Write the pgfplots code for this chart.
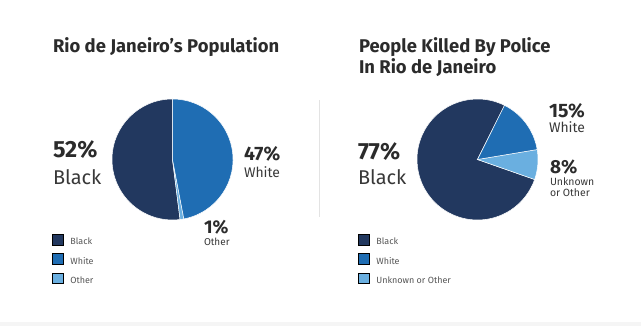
\documentclass[border=0pt]{standalone}
\usepackage{pgfplots}
\pgfplotsset{compat=1.18}
\usepackage{pgfplotstable}
\usepackage{fontspec}
\setmainfont{Fira Sans}
\definecolor{pblack}{HTML}{22385F}
\definecolor{pwhite}{HTML}{1F6DB3}
\definecolor{pother}{HTML}{6AAFE0}
\definecolor{txt}{HTML}{2B2B2B}
\definecolor{lbl}{HTML}{383838}
\definecolor{legtxt}{HTML}{555555}
\definecolor{sepc}{HTML}{E3E3E3}
\definecolor{band}{HTML}{F5F5F5}

\pgfplotstableread{
label value color
Black 52 pblack
Other 1 pother
White 47 pwhite
}\popdata
\pgfplotstableread{
label value color
Black 77 pblack
Unknown 8 pother
White 15 pwhite
}\killdata

\newcommand\pieslices[3]{%
  \pgfplotstablegetrowsof{#1}%
  \pgfmathtruncatemacro\lastrow{\pgfplotsretval-1}%
  \pgfmathsetmacro\cur{#2}%
  \xdef\cur{\cur}%
  \foreach \i in {0,...,\lastrow}{%
    \pgfplotstablegetelem{\i}{value}\of{#1}%
    \pgfmathsetmacro\nxt{\cur+3.6*\pgfplotsretval}%
    \pgfplotstablegetelem{\i}{color}\of{#1}%
    \edef\cmd{\noexpand\fill[fill=\pgfplotsretval,draw=white,line width=0.5bp] (axis cs:0,0) -- ++(\cur:#3) arc[start angle=\cur,end angle=\nxt,radius=#3] -- cycle;}%
    \cmd
    \xdef\cur{\nxt}%
  }%
}

\pgfplotsset{
  piestyle/.style={
    anchor=center, scale only axis, width=121bp, height=121bp,
    xmin=-1, xmax=1, ymin=-1, ymax=1, hide axis, clip=false,
    legend cell align=left,
    legend image code/.code={\fill[##1] (0bp,-2.5bp) rectangle (11bp,8bp);},
    legend style={anchor=north west, draw=none, fill=none, inner sep=0pt, outer sep=0pt,
      row sep=7bp, column sep=7bp, font=\fontsize{9}{11}\selectfont, text=legtxt,
      nodes={inner sep=0pt, outer sep=0pt}},
  }
}

\begin{document}
\begin{tikzpicture}[x=1bp,y=1bp]
\useasboundingbox (0,0) rectangle (641,326);
\fill[band] (0,0) rectangle (641,4);
\draw[sepc, line width=1bp] (319.5,109) -- (319.5,226);

\begin{axis}[piestyle, at={(172.5bp,166.5bp)}, legend style={at={(-0.4959,-0.1157)}}]
\pieslices{\popdata}{90}{60.5bp}
\addlegendimage{fill=pblack}\addlegendentry{Black}
\addlegendimage{fill=pwhite}\addlegendentry{White}
\addlegendimage{fill=pother}\addlegendentry{Other}
\end{axis}

\begin{axis}[piestyle, at={(477.5bp,166.5bp)}, legend style={at={(-0.4876,-0.1157)}}]
\pieslices{\killdata}{63.5}{60.5bp}
\addlegendimage{fill=pblack}\addlegendentry{Black}
\addlegendimage{fill=pwhite}\addlegendentry{White}
\addlegendimage{fill=pother}\addlegendentry{Unknown or Other}
\end{axis}

\begin{scope}[every node/.style={inner sep=0pt, outer sep=0pt, anchor=base west}]
\node[text=txt, font=\fontsize{18.5}{22}\selectfont\bfseries] at (53,274) {Rio de Janeiro’s Population};
\node[text=txt, font=\fontsize{18.5}{22}\selectfont\bfseries] at (359,274) {People Killed By Police};
\node[text=txt, font=\fontsize{18.5}{22}\selectfont\bfseries] at (359,253) {In Rio de Janeiro};

\node[text=txt, font=\fontsize{23.5}{28}\selectfont\bfseries] at (53,169) {52\%};
\node[text=lbl, font=\fontsize{20}{24}\selectfont] at (53,142) {Black};
\node[text=txt, font=\fontsize{19.5}{23}\selectfont\bfseries] at (244,166) {47\%};
\node[text=lbl, font=\fontsize{14}{17}\selectfont] at (244,148.5) {White};
\node[text=txt, font=\fontsize{18.5}{22}\selectfont\bfseries] at (204,92.5) {1\%};
\node[text=lbl, font=\fontsize{10}{12}\selectfont] at (204,80.5) {Other};

\node[text=txt, font=\fontsize{23.5}{28}\selectfont\bfseries] at (358,167) {77\%};
\node[text=lbl, font=\fontsize{20}{24}\selectfont] at (358,142) {Black};
\node[text=txt, font=\fontsize{19.5}{23}\selectfont\bfseries] at (549,209) {15\%};
\node[text=lbl, font=\fontsize{14}{17}\selectfont] at (549,194) {White};
\node[text=txt, font=\fontsize{19}{22}\selectfont\bfseries] at (550,153) {8\%};
\node[text=lbl, font=\fontsize{10.5}{12}\selectfont] at (550,141) {Unknown};
\node[text=lbl, font=\fontsize{10.5}{12}\selectfont] at (550,129.5) {or Other};
\end{scope}
\end{tikzpicture}
\end{document}
